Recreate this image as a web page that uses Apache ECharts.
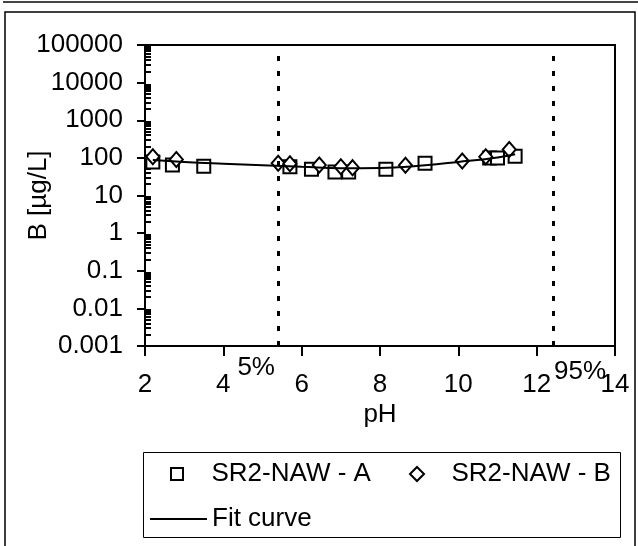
<!DOCTYPE html>
<html>
<head>
<meta charset="utf-8">
<script src="https://cdn.jsdelivr.net/npm/echarts@6.0.0/dist/echarts.min.js"></script>
<style>
  html, body { margin: 0; padding: 0; background: #fff; }
  #chart { width: 638px; height: 546px; }
</style>
</head>
<body>
<div id="chart"></div>
<script>
// pH / boron values
const phA = [2.2, 2.7, 3.5, 5.7, 6.25, 6.85, 7.2, 8.15, 9.15, 10.8, 11.0, 11.45];
const bA = [78, 65, 60, 58, 50, 42, 42, 50, 72, 100, 100, 110];

const phB = [2.2, 2.8, 5.4, 5.7, 6.45, 7.0, 7.3, 8.65, 10.1, 10.7, 11.3];
const bB = [107, 91, 72, 70, 65, 58, 55, 64, 83, 107, 167];

const phFit = [2.2, 3, 4, 5, 6, 7, 8, 9, 10, 11, 11.45];
const bFit = [88, 78, 70, 64, 58, 53, 54, 62, 78, 103, 125];

// 5% / 95% limits
const limitPh = [5.4, 12.42];
const limitNames = ['5%', '95%'];

// log minor ticks 2..9 per decade
const minorTicks = [];
for (let e = -3; e <= 4; e++) {
  for (let m = 2; m <= 9; m++) {
    minorTicks.push(Number((m * Math.pow(10, e)).toPrecision(3)));
  }
}

const font = "'Liberation Sans', Arial, sans-serif";
const toPairs = (xs, ys) => xs.map((x, i) => [x, ys[i]]);

let chart = echarts.init(document.getElementById('chart'));
chart.setOption({
  animation: false,
  textStyle: { fontFamily: font, color: '#000' },
  grid: {
    left: 145, right: 23, top: 45, bottom: 200,
    outerBoundsMode: 'none',
    containLabel: false,
    show: true,
    borderColor: '#000',
    borderWidth: 2
  },
  xAxis: {
    type: 'value',
    min: 2, max: 14, interval: 2,
    name: 'pH',
    nameLocation: 'middle',
    nameGap: 56,
    nameMoveOverlap: false,
    nameTextStyle: { fontSize: 26, color: '#000', fontFamily: font },
    axisLine: { lineStyle: { color: '#000', width: 2 } },
    axisTick: { length: 10, lineStyle: { color: '#000', width: 2 } },
    axisLabel: { fontSize: 26, color: '#000', margin: 26, fontFamily: font },
    splitLine: { show: false }
  },
  yAxis: [
    {
      type: 'log',
      logBase: 10,
      min: 0.001, max: 100000,
      name: 'B [µg/L]',
      nameLocation: 'middle',
      nameGap: 93,
      nameMoveOverlap: false,
      nameTextStyle: { fontSize: 26, color: '#000', fontFamily: font },
      axisLine: { lineStyle: { color: '#000', width: 2 } },
      axisTick: { length: 8, lineStyle: { color: '#000', width: 2 } },
      axisLabel: {
        fontSize: 26, color: '#000', margin: 22, fontFamily: font,
        formatter: v => String(Number(Number(v).toPrecision(6)))
      },
      splitLine: { show: false }
    },
    {
      type: 'log',
      logBase: 10,
      min: 0.001, max: 100000,
      position: 'left',
      axisLine: { show: false },
      axisTick: {
        inside: true, length: 6,
        customValues: minorTicks,
        lineStyle: { color: '#000', width: 2 }
      },
      axisLabel: { show: false },
      splitLine: { show: false }
    }
  ],
  legend: [
    {
      left: 170, top: 461, padding: 0,
      itemWidth: 59, itemHeight: 12,
      textStyle: { fontSize: 26, color: '#000', fontFamily: font },
      data: [{
        name: 'SR2-NAW - A',
        icon: 'path://M0,0L10,0L10,10L0,10Z',
        itemStyle: { color: '#fff', borderColor: '#000', borderWidth: 2 }
      }]
    },
    {
      left: 409, top: 461, padding: 0,
      itemWidth: 59, itemHeight: 14,
      textStyle: { fontSize: 26, color: '#000', fontFamily: font },
      data: [{
        name: 'SR2-NAW - B',
        icon: 'path://M5,0L10,5L5,10L0,5Z',
        itemStyle: { color: '#fff', borderColor: '#000', borderWidth: 2 }
      }]
    },
    {
      left: 150, top: 506, padding: 0,
      itemWidth: 57, itemHeight: 2,
      textStyle: { fontSize: 26, color: '#000', fontFamily: font },
      data: [{ name: 'Fit curve', icon: 'rect', itemStyle: { color: '#000' } }]
    }
  ],
  graphic: [
    {
      type: 'line',
      shape: { x1: 3, y1: 2, x2: 638, y2: 2 },
      style: { stroke: '#444', lineWidth: 2 }
    },
    {
      type: 'rect',
      shape: { x: 5, y: 12, width: 630, height: 600 },
      style: { fill: null, stroke: '#000', lineWidth: 1.5 },
      z: -1
    },
    {
      type: 'rect',
      shape: { x: 143.5, y: 452.5, width: 477, height: 85 },
      style: { fill: null, stroke: '#000', lineWidth: 1 }
    }
  ],
  series: [
    {
      name: 'Fit curve',
      type: 'line',
      smooth: true,
      symbol: 'none',
      lineStyle: { color: '#000', width: 2 },
      itemStyle: { color: '#000' },
      data: toPairs(phFit, bFit),
      markLine: {
        silent: true,
        symbol: ['none', 'none'],
        lineStyle: { color: '#000', width: 3, type: [5, 10] },
        data: limitPh.map((p, i) => ({
          xAxis: p,
          label: {
            show: true,
            position: 'start',
            formatter: limitNames[i],
            fontSize: 26,
            color: '#000',
            fontFamily: font,
            offset: i === 0 ? [-22, 4] : [27, 8]
          }
        }))
      }
    },
    {
      name: 'SR2-NAW - A',
      type: 'scatter',
      symbol: 'rect',
      symbolSize: 13,
      itemStyle: { color: '#fff', borderColor: '#000', borderWidth: 2, opacity: 1 },
      data: toPairs(phA, bA)
    },
    {
      name: 'SR2-NAW - B',
      type: 'scatter',
      symbol: 'diamond',
      symbolSize: [13, 15],
      itemStyle: { color: '#fff', borderColor: '#000', borderWidth: 2, opacity: 1 },
      data: toPairs(phB, bB)
    }
  ]
});
</script>
</body>
</html>
